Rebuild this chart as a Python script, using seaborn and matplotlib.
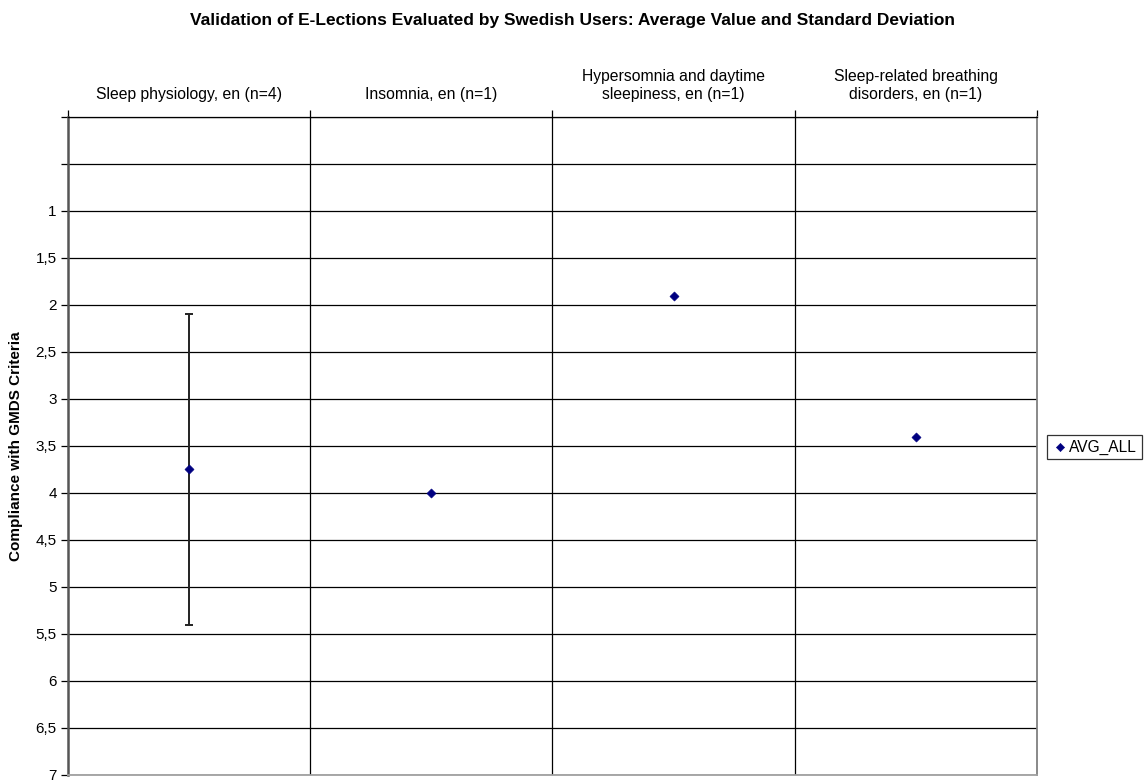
import numpy as np
import pandas as pd
import matplotlib
matplotlib.use("Agg")
import matplotlib.pyplot as plt
import seaborn as sns

# data
categories = ["Sleep physiology, en (n=4)", "Insomnia, en (n=1)",
              "Hypersomnia and daytime\nsleepiness, en (n=1)",
              "Sleep-related breathing\ndisorders, en (n=1)"]
avg_all = [3.75, 4.0, 1.9, 3.4]
std_dev = [1.65, 0.0, 0.0, 0.0]
y_ticks = [0, 0.5, 1, 1.5, 2, 2.5, 3, 3.5, 4, 4.5, 5, 5.5, 6, 6.5, 7]
y_labels = ["", "", "1", "1,5", "2", "2,5", "3", "3,5", "4", "4,5", "5", "5,5", "6", "6,5", "7"]

sns.set_style("white")
plt.rcParams['font.family'] = ['Liberation Sans', 'DejaVu Sans']
plt.rcParams['text.color'] = 'black'
plt.rcParams['axes.labelcolor'] = 'black'
plt.rcParams['xtick.color'] = 'black'
plt.rcParams['ytick.color'] = 'black'

df = pd.DataFrame({"category": categories, "avg": avg_all, "sd": std_dev})
df["pos"] = np.arange(len(df))

fig = plt.figure(figsize=(11.46, 7.81), dpi=100)
ax = fig.add_axes([0.0593, 0.0077, 0.8456, 0.8425])

# horizontal grid
for yv in y_ticks:
    ax.axhline(yv, color="black", lw=0.9, zorder=0)
# category separators
for xv in np.arange(0.5, len(df) - 1, 1):
    ax.axvline(xv, color="black", lw=0.9, zorder=0)

# error bar (only where sd > 0)
eb = df[df["sd"] > 0]
ax.errorbar(eb["pos"], eb["avg"], yerr=eb["sd"], fmt="none", ecolor="#222222",
            elinewidth=1.4, capsize=3, capthick=1.4, zorder=2)

sns.scatterplot(data=df, x="pos", y="avg", marker="D", color="#000080",
                s=22, edgecolor="#000080", label="AVG_ALL", ax=ax, zorder=3)

ax.set_xlim(-0.5, len(df) - 0.5)
ax.set_ylim(7, 0)

ax.set_yticks(y_ticks)
ax.set_yticklabels(y_labels, fontsize=11)
ax.tick_params(axis="y", direction="out", length=5, width=0.9, color="black", left=True, pad=3)

ax.xaxis.tick_top()
ax.set_xticks(df["pos"])
ax.set_xticklabels(df["category"], fontsize=11.3)
ax.set_xticks(np.arange(-0.5, len(df), 1), minor=True)
ax.tick_params(axis="x", which="major", length=0, pad=11)
ax.tick_params(axis="x", which="minor", direction="out", length=5, width=0.9, color="black", top=True)
ax.set_xlabel("")

ax.set_ylabel("Compliance with GMDS Criteria", fontsize=11, fontweight="bold", labelpad=9)

for side in ["left", "right", "bottom", "top"]:
    ax.spines[side].set_visible(True)
ax.spines["left"].set_color("#555555")
ax.spines["left"].set_linewidth(1.8)
ax.spines["right"].set_color("#808080")
ax.spines["right"].set_linewidth(1.3)
ax.spines["bottom"].set_color("#a0a0a0")
ax.spines["bottom"].set_linewidth(1.3)
ax.spines["top"].set_color("black")
ax.spines["top"].set_linewidth(0.9)

leg = ax.legend(loc="center left", bbox_to_anchor=(0.914, 0.4276), bbox_transform=fig.transFigure,
                frameon=True, fancybox=False, fontsize=11.2, handletextpad=0.1,
                borderpad=0.3, borderaxespad=0, handlelength=1.0, markerscale=0.9)
leg.get_frame().set_edgecolor("black")
leg.get_frame().set_linewidth(0.9)

fig.suptitle("Validation of E-Lections Evaluated by Swedish Users: Average Value and Standard Deviation",
             x=0.5, y=0.974, va="center", fontsize=12.5, fontweight="bold")

fig.savefig("out.png", dpi=100)
